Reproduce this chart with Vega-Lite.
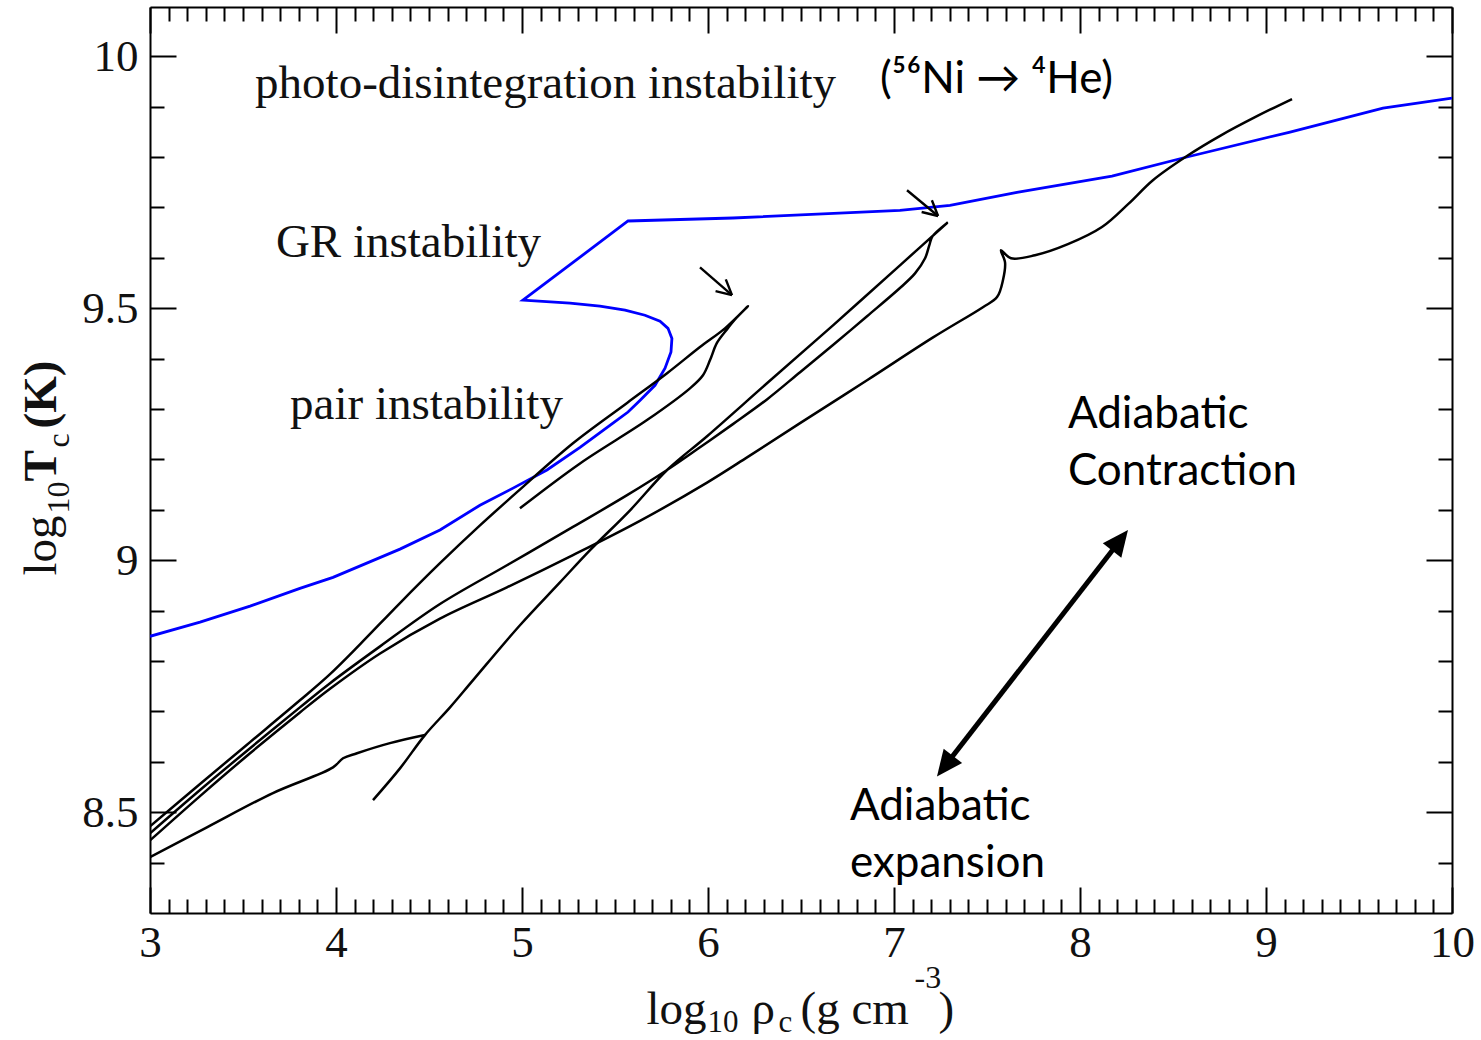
{
  "$schema": "https://vega.github.io/schema/vega-lite/v6.json",
  "width": 1302,
  "height": 906,
  "autosize": {"type": "none"},
  "padding": {"left": 150, "top": 7, "right": 29, "bottom": 127},
  "background": "white",
  "config": {
    "view": {"stroke": null},
    "axis": {"grid": false, "labelFont": "Liberation Serif", "titleFont": "Liberation Serif", "titleFontWeight": "normal", "titleColor": "#111111", "labelColor": "#111111", "tickColor": "#000000", "domainColor": "#000000"}
  },
  "datasets": {
    "boundary": [
      {"i": 0, "x": 3.000, "y": 8.849}, {"i": 1, "x": 3.269, "y": 8.877}, {"i": 2, "x": 3.538, "y": 8.909},
      {"i": 3, "x": 3.806, "y": 8.944}, {"i": 4, "x": 3.984, "y": 8.966}, {"i": 5, "x": 4.344, "y": 9.022},
      {"i": 6, "x": 4.559, "y": 9.060}, {"i": 7, "x": 4.774, "y": 9.109}, {"i": 8, "x": 4.952, "y": 9.143},
      {"i": 9, "x": 5.134, "y": 9.179}, {"i": 10, "x": 5.312, "y": 9.224}, {"i": 11, "x": 5.489, "y": 9.272},
      {"i": 12, "x": 5.570, "y": 9.294}, {"i": 13, "x": 5.634, "y": 9.317}, {"i": 14, "x": 5.715, "y": 9.347},
      {"i": 15, "x": 5.769, "y": 9.381}, {"i": 16, "x": 5.801, "y": 9.413}, {"i": 17, "x": 5.806, "y": 9.440},
      {"i": 18, "x": 5.785, "y": 9.460}, {"i": 19, "x": 5.742, "y": 9.474}, {"i": 20, "x": 5.661, "y": 9.486},
      {"i": 21, "x": 5.554, "y": 9.496}, {"i": 22, "x": 5.419, "y": 9.504}, {"i": 23, "x": 5.258, "y": 9.510},
      {"i": 24, "x": 5.005, "y": 9.516}, {"i": 25, "x": 5.570, "y": 9.673}, {"i": 26, "x": 6.134, "y": 9.679},
      {"i": 27, "x": 7.032, "y": 9.694}, {"i": 28, "x": 7.301, "y": 9.704}, {"i": 29, "x": 7.661, "y": 9.730},
      {"i": 30, "x": 8.172, "y": 9.762}, {"i": 31, "x": 8.575, "y": 9.800}, {"i": 32, "x": 9.124, "y": 9.849},
      {"i": 33, "x": 9.629, "y": 9.897}, {"i": 34, "x": 10.0, "y": 9.917}
    ],
    "tracks": [
      {"track": "A", "i": 0, "x": 3.000, "y": 8.472}, {"track": "A", "i": 1, "x": 3.269, "y": 8.556},
      {"track": "A", "i": 2, "x": 3.538, "y": 8.639}, {"track": "A", "i": 3, "x": 3.806, "y": 8.722},
      {"track": "A", "i": 4, "x": 3.968, "y": 8.774}, {"track": "A", "i": 5, "x": 4.129, "y": 8.833},
      {"track": "A", "i": 6, "x": 4.344, "y": 8.915}, {"track": "A", "i": 7, "x": 4.559, "y": 8.994},
      {"track": "A", "i": 8, "x": 4.774, "y": 9.069}, {"track": "A", "i": 9, "x": 4.973, "y": 9.135},
      {"track": "A", "i": 10, "x": 5.274, "y": 9.232}, {"track": "A", "i": 11, "x": 5.565, "y": 9.312},
      {"track": "A", "i": 12, "x": 5.780, "y": 9.371}, {"track": "A", "i": 13, "x": 5.957, "y": 9.423},
      {"track": "A", "i": 14, "x": 6.091, "y": 9.460}, {"track": "A", "i": 15, "x": 6.215, "y": 9.504},
      {"track": "A", "i": 16, "x": 6.151, "y": 9.480}, {"track": "A", "i": 17, "x": 6.102, "y": 9.458},
      {"track": "A", "i": 18, "x": 6.048, "y": 9.431}, {"track": "A", "i": 19, "x": 6.011, "y": 9.397},
      {"track": "A", "i": 20, "x": 5.973, "y": 9.367}, {"track": "A", "i": 21, "x": 5.903, "y": 9.341},
      {"track": "A", "i": 22, "x": 5.672, "y": 9.278}, {"track": "A", "i": 23, "x": 5.312, "y": 9.192},
      {"track": "A", "i": 24, "x": 4.989, "y": 9.103},

      {"track": "B", "i": 0, "x": 3.000, "y": 8.458}, {"track": "B", "i": 1, "x": 3.269, "y": 8.544},
      {"track": "B", "i": 2, "x": 3.538, "y": 8.627}, {"track": "B", "i": 3, "x": 3.806, "y": 8.708},
      {"track": "B", "i": 4, "x": 3.968, "y": 8.756}, {"track": "B", "i": 5, "x": 4.237, "y": 8.829},
      {"track": "B", "i": 6, "x": 4.559, "y": 8.913}, {"track": "B", "i": 7, "x": 4.919, "y": 8.990},
      {"track": "B", "i": 8, "x": 5.274, "y": 9.066}, {"track": "B", "i": 9, "x": 5.565, "y": 9.129},
      {"track": "B", "i": 10, "x": 5.780, "y": 9.179}, {"track": "B", "i": 11, "x": 5.957, "y": 9.224},
      {"track": "B", "i": 12, "x": 6.134, "y": 9.270}, {"track": "B", "i": 13, "x": 6.317, "y": 9.319},
      {"track": "B", "i": 14, "x": 6.495, "y": 9.373}, {"track": "B", "i": 15, "x": 6.672, "y": 9.427},
      {"track": "B", "i": 16, "x": 6.855, "y": 9.484}, {"track": "B", "i": 17, "x": 7.032, "y": 9.540},
      {"track": "B", "i": 18, "x": 7.113, "y": 9.569}, {"track": "B", "i": 19, "x": 7.167, "y": 9.599},
      {"track": "B", "i": 20, "x": 7.190, "y": 9.625}, {"track": "B", "i": 21, "x": 7.206, "y": 9.642},
      {"track": "B", "i": 22, "x": 7.285, "y": 9.669}, {"track": "B", "i": 23, "x": 7.032, "y": 9.585},
      {"track": "B", "i": 24, "x": 6.672, "y": 9.466}, {"track": "B", "i": 25, "x": 6.317, "y": 9.351},
      {"track": "B", "i": 26, "x": 5.995, "y": 9.246}, {"track": "B", "i": 27, "x": 5.780, "y": 9.179},
      {"track": "B", "i": 28, "x": 5.581, "y": 9.099}, {"track": "B", "i": 29, "x": 5.366, "y": 9.020},
      {"track": "B", "i": 30, "x": 5.204, "y": 8.956}, {"track": "B", "i": 31, "x": 4.989, "y": 8.871},
      {"track": "B", "i": 32, "x": 4.737, "y": 8.762}, {"track": "B", "i": 33, "x": 4.613, "y": 8.708},
      {"track": "B", "i": 34, "x": 4.478, "y": 8.653}, {"track": "B", "i": 35, "x": 4.344, "y": 8.587},
      {"track": "B", "i": 36, "x": 4.199, "y": 8.524},

      {"track": "C", "i": 0, "x": 3.000, "y": 8.444}, {"track": "C", "i": 1, "x": 3.269, "y": 8.532},
      {"track": "C", "i": 2, "x": 3.538, "y": 8.617}, {"track": "C", "i": 3, "x": 3.806, "y": 8.698},
      {"track": "C", "i": 4, "x": 3.968, "y": 8.745}, {"track": "C", "i": 5, "x": 4.237, "y": 8.815},
      {"track": "C", "i": 6, "x": 4.559, "y": 8.884}, {"track": "C", "i": 7, "x": 4.919, "y": 8.946},
      {"track": "C", "i": 8, "x": 5.274, "y": 9.010}, {"track": "C", "i": 9, "x": 5.634, "y": 9.078},
      {"track": "C", "i": 10, "x": 5.995, "y": 9.154}, {"track": "C", "i": 11, "x": 6.210, "y": 9.204},
      {"track": "C", "i": 12, "x": 6.495, "y": 9.272}, {"track": "C", "i": 13, "x": 6.855, "y": 9.357},
      {"track": "C", "i": 14, "x": 7.210, "y": 9.442}, {"track": "C", "i": 15, "x": 7.478, "y": 9.502},
      {"track": "C", "i": 16, "x": 7.554, "y": 9.522}, {"track": "C", "i": 17, "x": 7.586, "y": 9.556},
      {"track": "C", "i": 18, "x": 7.597, "y": 9.591}, {"track": "C", "i": 19, "x": 7.575, "y": 9.615},
      {"track": "C", "i": 20, "x": 7.629, "y": 9.599}, {"track": "C", "i": 21, "x": 7.758, "y": 9.605},
      {"track": "C", "i": 22, "x": 7.935, "y": 9.627}, {"track": "C", "i": 23, "x": 8.118, "y": 9.661},
      {"track": "C", "i": 24, "x": 8.263, "y": 9.708}, {"track": "C", "i": 25, "x": 8.392, "y": 9.754},
      {"track": "C", "i": 26, "x": 8.575, "y": 9.802}, {"track": "C", "i": 27, "x": 8.758, "y": 9.843},
      {"track": "C", "i": 28, "x": 8.941, "y": 9.879}, {"track": "C", "i": 29, "x": 9.140, "y": 9.915},

      {"track": "D", "i": 0, "x": 3.000, "y": 8.411}, {"track": "D", "i": 1, "x": 3.306, "y": 8.470},
      {"track": "D", "i": 2, "x": 3.661, "y": 8.538}, {"track": "D", "i": 3, "x": 3.984, "y": 8.589},
      {"track": "D", "i": 4, "x": 4.038, "y": 8.607}, {"track": "D", "i": 5, "x": 4.113, "y": 8.617},
      {"track": "D", "i": 6, "x": 4.290, "y": 8.637}, {"track": "D", "i": 7, "x": 4.478, "y": 8.653}
    ],
    "serifNotes": [
      {"x": 3.565, "y": 9.917, "text": "photo-disintegration instability"},
      {"x": 3.677, "y": 9.601, "text": "GR instability"},
      {"x": 3.753, "y": 9.280, "text": "pair instability"}
    ],
    "sansNotes": [
      {"x": 6.925, "y": 9.927, "text": "(⁵⁶Ni → ⁴He)"},
      {"x": 7.935, "y": 9.262, "text": "Adiabatic\nContraction"},
      {"x": 6.763, "y": 8.484, "text": "Adiabatic\nexpansion"}
    ],
    "pointers": [
      {"x": 5.957, "y": 9.581, "x2": 6.129, "y2": 9.526},
      {"x": 7.070, "y": 9.734, "x2": 7.237, "y2": 9.683}
    ],
    "adiabat": [
      {"x": 7.281, "y": 8.595, "x2": 8.209, "y2": 9.036}
    ],
    "adiabatUp": [{"x": 8.258, "y": 9.060}],
    "adiabatDown": [{"x": 7.231, "y": 8.571}]
  },
  "resolve": {"axis": {"x": "independent", "y": "independent"}},
  "layer": [
    {
      "data": {"name": "boundary"},
      "mark": {"type": "line", "color": "#0000ff", "strokeWidth": 2.8, "clip": true},
      "encoding": {
        "x": {"field": "x", "type": "quantitative", "scale": {"domain": [3, 10], "nice": false, "zero": false},
          "axis": {"orient": "bottom", "values": [3, 4, 5, 6, 7, 8, 9, 10], "format": "d", "ticks": false, "domain": false,
            "labelFontSize": 45, "labelPadding": 43, "labelBaseline": "alphabetic", "labelAlign": "center", "labelFlush": false, "labelOverlap": false, "labelBound": false,
            "title": "log", "titleX": 496, "titleY": 110, "titleAlign": "left", "titleBaseline": "alphabetic", "titleAngle": 0, "titleFontSize": 47}},
        "y": {"field": "y", "type": "quantitative", "scale": {"domain": [8.3, 10.0976], "nice": false, "zero": false},
          "axis": {"orient": "left", "values": [8.5, 9, 9.5, 10], "format": "~g", "ticks": false, "domain": false,
            "labelFontSize": 45, "labelPadding": 12, "labelAlign": "right", "labelBaseline": "middle", "labelFlush": false, "labelOverlap": false, "labelBound": false,
            "title": "log", "titleX": -95, "titleY": 568, "titleAlign": "left", "titleBaseline": "alphabetic", "titleAngle": 270, "titleFontSize": 47}},
        "order": {"field": "i", "type": "quantitative"}
      }
    },
    {
      "data": {"name": "tracks"},
      "mark": {"type": "line", "color": "#000000", "strokeWidth": 2.5, "clip": true, "interpolate": "catmull-rom"},
      "encoding": {
        "x": {"field": "x", "type": "quantitative",
          "axis": {"orient": "bottom", "values": [3, 4, 5, 6, 7, 8, 9, 10], "labels": false, "tickSize": -26, "tickWidth": 2, "domain": true, "domainWidth": 2,
            "title": "10", "titleX": 557, "titleY": 118, "titleAlign": "left", "titleBaseline": "alphabetic", "titleAngle": 0, "titleFontSize": 31}},
        "y": {"field": "y", "type": "quantitative",
          "axis": {"orient": "left", "values": [8.5, 9, 9.5, 10], "labels": false, "tickSize": -26, "tickWidth": 2, "domain": true, "domainWidth": 2,
            "title": "10", "titleX": -82, "titleY": 506, "titleAlign": "left", "titleBaseline": "alphabetic", "titleAngle": 270, "titleFontSize": 32}},
        "detail": {"field": "track", "type": "nominal"},
        "order": {"field": "i", "type": "quantitative"}
      }
    },
    {
      "data": {"name": "serifNotes"},
      "mark": {"type": "text", "font": "Liberation Serif", "fontSize": 47, "color": "#111111", "align": "left", "baseline": "alphabetic"},
      "encoding": {
        "x": {"field": "x", "type": "quantitative",
          "axis": {"orient": "bottom", "values": [3.1, 3.2, 3.3, 3.4, 3.5, 3.6, 3.7, 3.8, 3.9, 4.1, 4.2, 4.3, 4.4, 4.5, 4.6, 4.7, 4.8, 4.9, 5.1, 5.2, 5.3, 5.4, 5.5, 5.6, 5.7, 5.8, 5.9, 6.1, 6.2, 6.3, 6.4, 6.5, 6.6, 6.7, 6.8, 6.9, 7.1, 7.2, 7.3, 7.4, 7.5, 7.6, 7.7, 7.8, 7.9, 8.1, 8.2, 8.3, 8.4, 8.5, 8.6, 8.7, 8.8, 8.9, 9.1, 9.2, 9.3, 9.4, 9.5, 9.6, 9.7, 9.8, 9.9],
            "labels": false, "tickSize": -14, "tickWidth": 2, "domain": false,
            "title": "ρ", "titleX": 601, "titleY": 110, "titleAlign": "left", "titleBaseline": "alphabetic", "titleAngle": 0, "titleFontSize": 47}},
        "y": {"field": "y", "type": "quantitative",
          "axis": {"orient": "left", "values": [8.4, 8.6, 8.7, 8.8, 8.9, 9.1, 9.2, 9.3, 9.4, 9.6, 9.7, 9.8, 9.9],
            "labels": false, "tickSize": -14, "tickWidth": 2, "domain": false,
            "title": "T", "titleX": -95, "titleY": 474, "titleAlign": "left", "titleBaseline": "alphabetic", "titleAngle": 270, "titleFontSize": 47, "titleFontWeight": "bold"}},
        "text": {"field": "text", "type": "nominal"}
      }
    },
    {
      "data": {"name": "sansNotes"},
      "mark": {"type": "text", "font": "Lato", "fontSize": 44, "color": "#000000", "align": "left", "baseline": "alphabetic", "lineBreak": "\n", "lineHeight": 57},
      "encoding": {
        "x": {"field": "x", "type": "quantitative",
          "axis": {"orient": "top", "values": [3, 4, 5, 6, 7, 8, 9, 10], "labels": false, "tickSize": -26, "tickWidth": 2, "domain": true, "domainWidth": 2,
            "title": "c", "titleX": 628, "titleY": 1024, "titleAlign": "left", "titleBaseline": "alphabetic", "titleAngle": 0, "titleFontSize": 31}},
        "y": {"field": "y", "type": "quantitative",
          "axis": {"orient": "right", "values": [8.5, 9, 9.5, 10], "labels": false, "tickSize": -26, "tickWidth": 2, "domain": true, "domainWidth": 2,
            "title": "c", "titleX": -1384, "titleY": 440, "titleAlign": "left", "titleBaseline": "alphabetic", "titleAngle": 270, "titleFontSize": 32}},
        "text": {"field": "text", "type": "nominal"}
      }
    },
    {
      "data": {"name": "pointers"},
      "mark": {"type": "rule", "color": "#000000", "strokeWidth": 2.4},
      "encoding": {
        "x": {"field": "x", "type": "quantitative",
          "axis": {"orient": "top", "values": [3.1, 3.2, 3.3, 3.4, 3.5, 3.6, 3.7, 3.8, 3.9, 4.1, 4.2, 4.3, 4.4, 4.5, 4.6, 4.7, 4.8, 4.9, 5.1, 5.2, 5.3, 5.4, 5.5, 5.6, 5.7, 5.8, 5.9, 6.1, 6.2, 6.3, 6.4, 6.5, 6.6, 6.7, 6.8, 6.9, 7.1, 7.2, 7.3, 7.4, 7.5, 7.6, 7.7, 7.8, 7.9, 8.1, 8.2, 8.3, 8.4, 8.5, 8.6, 8.7, 8.8, 8.9, 9.1, 9.2, 9.3, 9.4, 9.5, 9.6, 9.7, 9.8, 9.9],
            "labels": false, "tickSize": -14, "tickWidth": 2, "domain": false,
            "title": "(g cm", "titleX": 650, "titleY": 1016, "titleAlign": "left", "titleBaseline": "alphabetic", "titleAngle": 0, "titleFontSize": 47}},
        "y": {"field": "y", "type": "quantitative",
          "axis": {"orient": "right", "values": [8.4, 8.6, 8.7, 8.8, 8.9, 9.1, 9.2, 9.3, 9.4, 9.6, 9.7, 9.8, 9.9],
            "labels": false, "tickSize": -14, "tickWidth": 2, "domain": false,
            "title": "(K)", "titleX": -1397, "titleY": 421, "titleAlign": "left", "titleBaseline": "alphabetic", "titleAngle": 270, "titleFontSize": 47, "titleFontWeight": "bold"}},
        "x2": {"field": "x2"},
        "y2": {"field": "y2"}
      }
    },
    {
      "data": {"name": "pointers"},
      "mark": {"type": "point", "shape": "M0,0L-1,-0.52M0,0L-1,0.52", "filled": false, "stroke": "#000000", "strokeWidth": 2.4, "size": 900, "angle": 41, "opacity": 1},
      "encoding": {
        "x": {"field": "x2", "type": "quantitative",
          "axis": {"orient": "bottom", "ticks": false, "labels": false, "domain": false,
            "title": "-3", "titleX": 764, "titleY": 74, "titleAlign": "left", "titleBaseline": "alphabetic", "titleAngle": 0, "titleFontSize": 32}},
        "y": {"field": "y2", "type": "quantitative", "axis": null}
      }
    },
    {
      "data": {"name": "adiabat"},
      "mark": {"type": "rule", "color": "#000000", "strokeWidth": 5},
      "encoding": {
        "x": {"field": "x", "type": "quantitative",
          "axis": {"orient": "bottom", "ticks": false, "labels": false, "domain": false,
            "title": ")", "titleX": 788, "titleY": 110, "titleAlign": "left", "titleBaseline": "alphabetic", "titleAngle": 0, "titleFontSize": 47}},
        "y": {"field": "y", "type": "quantitative", "axis": null},
        "x2": {"field": "x2"},
        "y2": {"field": "y2"}
      }
    },
    {
      "data": {"name": "adiabatUp"},
      "mark": {"type": "point", "shape": "M0,0L-1,-0.45L-1,0.45Z", "filled": true, "color": "#000000", "size": 2704, "angle": 307.8, "opacity": 1},
      "encoding": {
        "x": {"field": "x", "type": "quantitative", "axis": null},
        "y": {"field": "y", "type": "quantitative", "axis": null}
      }
    },
    {
      "data": {"name": "adiabatDown"},
      "mark": {"type": "point", "shape": "M0,0L-1,-0.45L-1,0.45Z", "filled": true, "color": "#000000", "size": 2704, "angle": 127.8, "opacity": 1},
      "encoding": {
        "x": {"field": "x", "type": "quantitative", "axis": null},
        "y": {"field": "y", "type": "quantitative", "axis": null}
      }
    }
  ]
}
